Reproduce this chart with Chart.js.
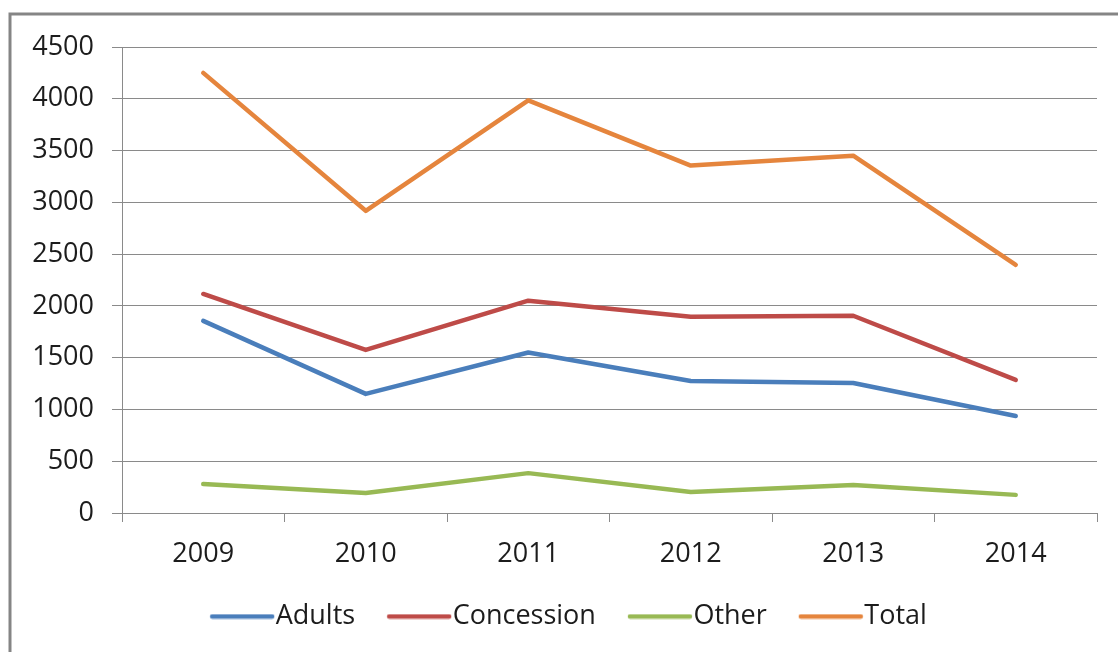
<!DOCTYPE html>
<html>
<head>
<meta charset="utf-8">
<script src="https://cdn.jsdelivr.net/npm/chart.js@4.4.1/dist/chart.umd.min.js"></script>
<style>
  html, body { margin: 0; padding: 0; background: #ffffff; }
  #wrap { position: relative; width: 1118px; height: 652px; }
</style>
</head>
<body>
<div id="wrap"><canvas id="c" width="1118" height="652"></canvas></div>
<script>
const categories = ['2009', '2010', '2011', '2012', '2013', '2014'];
const adults     = [1855, 1150, 1550, 1275, 1255, 937];
const concession = [2115, 1575, 2050, 1895, 1905, 1285];
const other      = [280, 193, 385, 203, 270, 175];
const total      = [4250, 2918, 3985, 3355, 3450, 2397];
const yTicks     = [0, 500, 1000, 1500, 2000, 2500, 3000, 3500, 4000, 4500];

const FONT = "'Open Sans', 'Liberation Sans', sans-serif";
const TEXT = '#1c1c1c';
const GRID = '#8a8a8a';

const frame = {
  id: 'frame',
  beforeDraw(chart) {
    const ctx = chart.ctx;
    ctx.save();
    ctx.fillStyle = '#ffffff';
    ctx.fillRect(0, 0, chart.width, chart.height);
    ctx.strokeStyle = '#858585';
    ctx.lineWidth = 3;
    ctx.beginPath();
    ctx.moveTo(10, chart.height + 5);
    ctx.lineTo(10, 14);
    ctx.lineTo(chart.width + 5, 14);
    ctx.stroke();
    ctx.restore();
  },
  afterLayout(chart) {
    // place the legend like the original: a bit right of centre, slightly higher
    if (chart.legend) {
      chart.legend.left += 52;
      chart.legend.top -= 12;
      chart.legend.bottom -= 12;
    }
  }
};

function legendLine(color) {
  const c = document.createElement('canvas');
  c.width = 66; c.height = 6;
  const g = c.getContext('2d');
  g.strokeStyle = color;
  g.lineWidth = 4.5;
  g.lineCap = 'round';
  g.beginPath();
  g.moveTo(3, 3); g.lineTo(63, 3);
  g.stroke();
  return c;
}

function ds(label, data, color) {
  return {
    label, data,
    borderColor: color, backgroundColor: color,
    borderWidth: 4.5, pointRadius: 0, pointHoverRadius: 0,
    tension: 0, fill: false, borderCapStyle: 'round', borderJoinStyle: 'round'
  };
}

new Chart(document.getElementById('c'), {
  type: 'line',
  data: {
    labels: categories,
    datasets: [
      ds('Adults', adults, '#4a7ebb'),
      ds('Concession', concession, '#be4b48'),
      ds('Other', other, '#98b954'),
      ds('Total', total, '#e5853d')
    ]
  },
  plugins: [frame],
  options: {
    responsive: false,
    animation: false,
    events: [],
    layout: { padding: { left: 0, right: 21, top: 47, bottom: 0 } },
    plugins: {
      tooltip: { enabled: false },
      legend: {
        position: 'bottom',
        labels: {
          font: { family: FONT, size: 27 },
          color: TEXT,
          usePointStyle: true,
          pointStyleWidth: 40,
          boxHeight: 6,
          padding: 44,
          generateLabels(chart) {
            return chart.data.datasets.map((d, i) => ({
              text: d.label,
              fillStyle: d.borderColor,
              strokeStyle: d.borderColor,
              lineWidth: 0,
              pointStyle: legendLine(d.borderColor),
              fontColor: TEXT,
              datasetIndex: i
            }));
          }
        }
      }
    },
    scales: {
      x: {
        type: 'category',
        offset: true,
        grid: { offset: true, drawOnChartArea: false, drawTicks: true, tickLength: 9, color: GRID, lineWidth: 1 },
        border: { display: true, color: GRID, width: 1 },
        ticks: { font: { family: FONT, size: 27 }, color: TEXT, padding: 16, maxRotation: 0 },
        afterFit(scale) { scale.height = 58; }
      },
      y: {
        min: 0, max: 4500,
        afterBuildTicks(scale) { scale.ticks = yTicks.map(v => ({ value: v })); },
        grid: { drawTicks: true, tickLength: 10, color: GRID, lineWidth: 1 },
        border: { display: true, color: GRID, width: 1 },
        ticks: { font: { family: FONT, size: 27 }, color: TEXT, padding: 18, callback: v => String(v) },
        afterFit(scale) { scale.width = 122; }
      }
    }
  }
});
</script>
</body>
</html>
